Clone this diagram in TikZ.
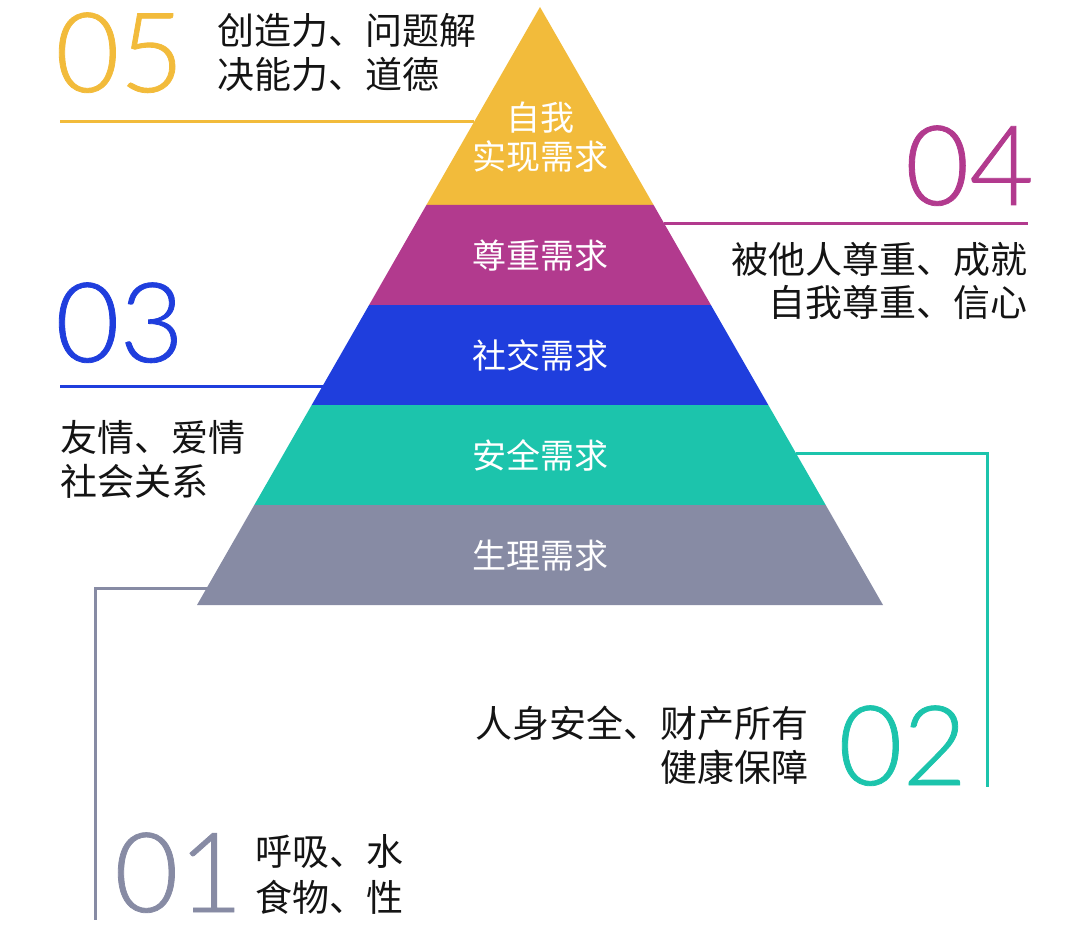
\documentclass[tikz,border=0pt]{standalone}
\usepackage{fontspec}
\setmainfont{Noto Sans CJK SC}
\IfFontExistsTF{Lato Light}{\newfontfamily\numfont[FakeBold=0.7]{Lato Light}}{\newfontfamily\numfont{Lato}}
\definecolor{cyellow}{RGB}{242,187,59}
\definecolor{cmagenta}{RGB}{178,58,142}
\definecolor{cblue}{RGB}{31,62,221}
\definecolor{cteal}{RGB}{28,196,172}
\definecolor{cgray}{RGB}{135,139,164}
\definecolor{ctext}{RGB}{20,20,20}
\tikzset{
  bignum/.style={inner sep=0pt, font=\numfont\fontsize{111}{111}\selectfont},
  desc/.style={inner sep=0pt, text=ctext, font=\fontsize{37}{37}\selectfont},
  lvl/.style={inner sep=0pt, text=white, font=\fontsize{34}{34}\selectfont},
  leader/.style={line width=3pt}
}
\begin{document}
\begin{tikzpicture}[x=1pt,y=-1pt]
\useasboundingbox (0,0) rectangle (1080,939);
% leader lines
\coordinate (e5) at (474,122);
\coordinate (s5) at (60,122);
\coordinate (e4) at (664,224);
\coordinate (s4) at (1028,224);
\coordinate (e3) at (323,386);
\coordinate (s3) at (60,386);
\coordinate (e2) at (796,453);
\coordinate (c2) at (987,453);
\coordinate (s2) at (987,787);
\coordinate (e1) at (207,588);
\coordinate (c1) at (95,588);
\coordinate (s1) at (95,920);
\draw[leader, cyellow] (s5) -- (e5);
\draw[leader, cmagenta] (e4) -- (s4);
\draw[leader, cblue] (s3) -- (e3);
\draw[leader, cteal] (e2) -- (c2) -- (s2);
\draw[leader, cgray] (e1) -- (c1) -- (s1);
% pyramid bands
\fill[cyellow] (540,7) -- (653.6,205) -- (426.4,205) -- cycle;
\fill[cmagenta] (426.4,205) -- (653.6,205) -- (710.9,305) -- (369.1,305) -- cycle;
\fill[cblue] (369.1,305) -- (710.9,305) -- (768.3,405) -- (311.7,405) -- cycle;
\fill[cteal] (311.7,405) -- (768.3,405) -- (825.7,505) -- (254.3,505) -- cycle;
\fill[cgray] (254.3,505) -- (825.7,505) -- (883,605) -- (197,605) -- cycle;
% level labels
\node[lvl, anchor=base] (l5a) at (540,131) {自我};
\node[lvl, anchor=base] (l5b) at (540,170) {实现需求};
\node[lvl, anchor=base] (l4) at (540,268) {尊重需求};
\node[lvl, anchor=base] (l3) at (540,368) {社交需求};
\node[lvl, anchor=base] (l2) at (540,468) {安全需求};
\node[lvl, anchor=base] (l1) at (540,568) {生理需求};
% numbers
\node[bignum, text=cyellow, anchor=base west] (n5) at (55,92) {05};
\node[bignum, text=cmagenta, anchor=base east] (n4) at (1034,205) {04};
\node[bignum, text=cblue, anchor=base west] (n3) at (55,362) {03};
\node[bignum, text=cteal, anchor=base west] (n2) at (838,785) {02};
\node[bignum, text=cgray, anchor=base west] (n1) at (114,912) {01};
% descriptions
\node[desc, anchor=base west] (d5a) at (217,45) {创造力、问题解};
\node[desc, anchor=base west] (d5b) at (217,89) {决能力、道德};
\node[desc, anchor=base east] (d4a) at (1028,273) {被他人尊重、成就};
\node[desc, anchor=base east] (d4b) at (1028,316) {自我尊重、信心};
\node[desc, anchor=base west] (d3a) at (60,451) {友情、爱情};
\node[desc, anchor=base west] (d3b) at (60,495) {社会关系};
\node[desc, anchor=base east] (d2a) at (809,737) {人身安全、财产所有};
\node[desc, anchor=base east] (d2b) at (809,781) {健康保障};
\node[desc, anchor=base west] (d1a) at (255,865) {呼吸、水};
\node[desc, anchor=base west] (d1b) at (255,911) {食物、性};
\end{tikzpicture}
\end{document}
